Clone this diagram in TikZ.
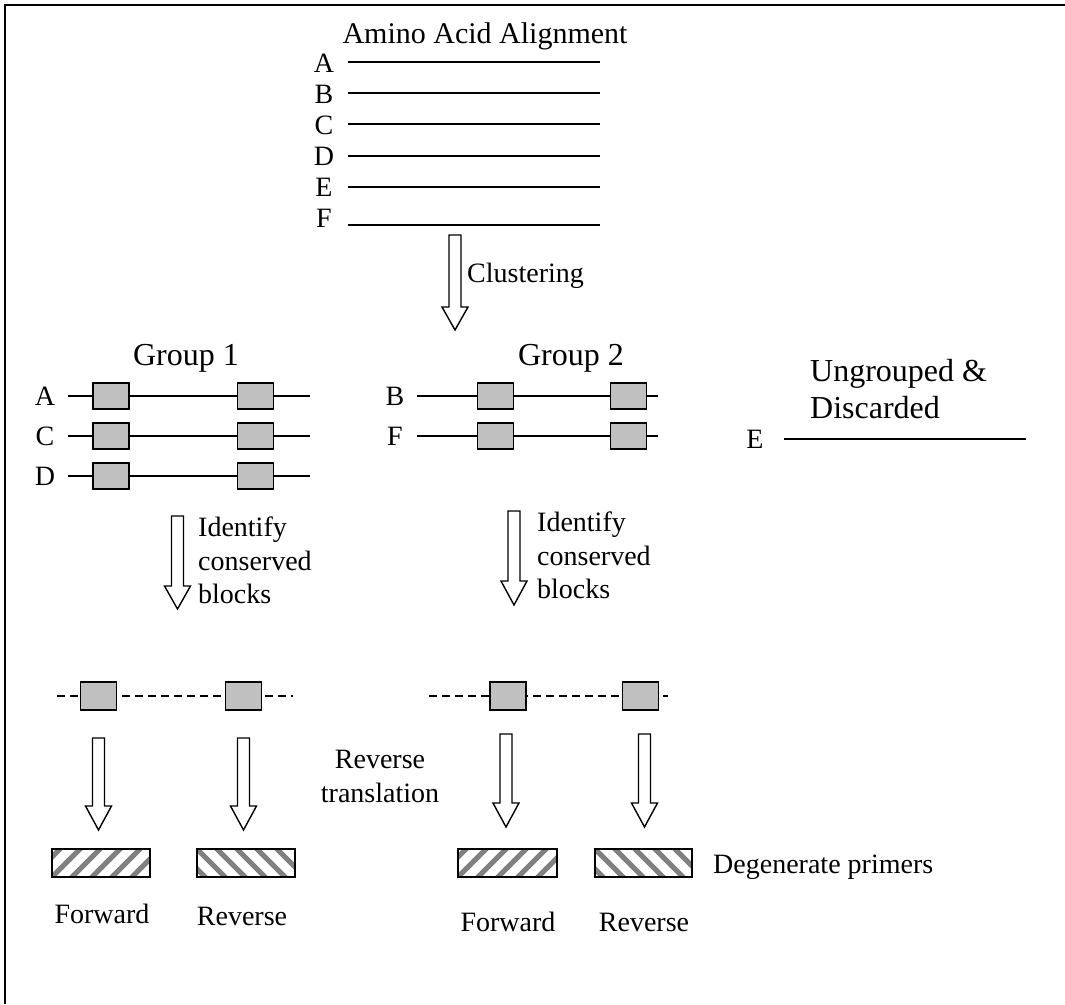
\documentclass[tikz,border=0pt]{standalone}
\usepackage{fontspec}
\setmainfont{Liberation Serif}
\definecolor{boxgray}{RGB}{192,192,192}
\definecolor{stripegray}{RGB}{128,128,128}
\newcommand{\blkarrow}[4]{\draw[blk] (#1-6,#2) -- (#1+6,#2) -- (#1+6,#3) -- (#1+13,#3) -- (#1,#4) -- (#1-13,#3) -- (#1-6,#3) -- cycle;}
\newcommand{\hatchfw}[2]{\begin{scope}\clip (#1,849) rectangle (#2,877);
  \foreach \s in {-40,-20,...,120} {\draw[stripe] (#1+\s-5,882) -- ++(38,-38);}
  \end{scope}}
\newcommand{\hatchbw}[2]{\begin{scope}\clip (#1,849) rectangle (#2,877);
  \foreach \s in {-40,-20,...,120} {\draw[stripe] (#1+\s-5,844) -- ++(38,38);}
  \end{scope}}
\begin{document}
\begin{tikzpicture}[x=1pt,y=-1pt,
  seq/.style={line width=1.8pt},
  dashseq/.style={line width=1.5pt, dash pattern=on 8pt off 5pt},
  gbox/.style={draw, line width=1.8pt, fill=boxgray, minimum width=36pt, minimum height=26pt, inner sep=0pt},
  hbox/.style={draw, line width=1.5pt, minimum height=28pt, inner sep=0pt},
  stripe/.style={stripegray, line width=5pt},
  blk/.style={draw, line width=1.4pt, fill=white, line join=miter},
  lbl/.style={font=\fontsize{28}{33.5}\selectfont, inner sep=0pt},
  ttl/.style={font=\fontsize{32}{37}\selectfont, inner sep=0pt},
]
\useasboundingbox (0,0) rectangle (1065,1004);
\draw[line width=2pt] (5,1004) -- (5,5) -- (1065,5);

% top alignment
\node[inner sep=0pt, font=\fontsize{30}{36}\selectfont, anchor=base] (title) at (485,43) {Amino Acid Alignment};
\foreach \n/\yy/\by in {A/62/72,B/93/103,C/124/134,D/156/165,E/187/196,F/225/227} {
  \node[lbl, anchor=base] (top\n) at (324,\by) {\n};
  \coordinate (top\n-s) at (348,\yy);
  \coordinate (top\n-e) at (600,\yy);
  \draw[seq] (top\n-s) -- (top\n-e);
}
\blkarrow{455}{235}{307}{330}
\node[lbl, anchor=base west] (clust) at (467,282) {Clustering};

% group 1
\node[ttl, anchor=base] (g1) at (186,365) {Group 1};
\foreach \n/\yy in {A/396,C/436,D/476} {
  \node[lbl, anchor=base] (ga\n) at (45,\yy+9) {\n};
  \coordinate (ga\n-s) at (68,\yy);
  \coordinate (ga\n-e) at (310,\yy);
  \draw[seq] (ga\n-s) -- (ga\n-e);
  \node[gbox] (ga\n-b1) at (111,\yy) {};
  \node[gbox] (ga\n-b2) at (255.5,\yy) {};
}
% group 2
\node[ttl, anchor=base] (g2) at (571,365) {Group 2};
\foreach \n/\yy in {B/396,F/436} {
  \node[lbl, anchor=base] (gb\n) at (395,\yy+9) {\n};
  \coordinate (gb\n-s) at (417,\yy);
  \coordinate (gb\n-e) at (658,\yy);
  \draw[seq] (gb\n-s) -- (gb\n-e);
  \node[gbox] (gb\n-b1) at (495.5,\yy) {};
  \node[gbox] (gb\n-b2) at (628.5,\yy) {};
}
% ungrouped
\node[ttl, align=left, anchor=north west] (ung) at (810,359) {Ungrouped \&\\Discarded};
\node[lbl, anchor=base] (ue) at (755,448) {E};
\coordinate (ue-s) at (784,439);
\coordinate (ue-e) at (1026,439);
\draw[seq] (ue-s) -- (ue-e);

% identify conserved blocks
\blkarrow{177.5}{516}{586}{609}
\node[lbl, align=left, anchor=north west] (id1) at (198,517) {Identify\\conserved\\blocks};
\blkarrow{514}{511}{581}{605}
\node[lbl, align=left, anchor=north west] (id2) at (537,512) {Identify\\conserved\\blocks};

% conserved blocks (dashed)
\coordinate (c1-s) at (57,696);
\coordinate (c1-e) at (293,696);
\draw[dashseq] (c1-s) -- (c1-e);
\node[gbox, minimum height=28pt] (c1-b1) at (98.5,696) {};
\node[gbox, minimum height=28pt] (c1-b2) at (243.5,696) {};
\coordinate (c2-s) at (429,696);
\coordinate (c2-e) at (668,696);
\draw[dashseq] (c2-s) -- (c2-e);
\node[gbox, minimum height=28pt] (c2-b1) at (508,696) {};
\node[gbox, minimum height=28pt] (c2-b2) at (640.5,696) {};

% reverse translation arrows
\blkarrow{98.5}{738}{806}{830}
\blkarrow{243.5}{738}{806}{830}
\blkarrow{506}{734}{803}{827}
\blkarrow{644.5}{734}{803}{827}
\node[lbl, align=center, anchor=north] (rt) at (380,750) {Reverse\\translation};

% primers
\hatchfw{52}{150}
\node[hbox, minimum width=98pt] (p1f) at (101,863) {};
\hatchbw{197}{295}
\node[hbox, minimum width=98pt] (p1r) at (246,863) {};
\hatchfw{458}{557}
\node[hbox, minimum width=99pt] (p2f) at (507.5,863) {};
\hatchbw{595}{692}
\node[hbox, minimum width=97pt] (p2r) at (643.5,863) {};
\node[lbl, anchor=base west] (deg) at (713,873) {Degenerate primers};

\node[lbl, anchor=base] (fw1) at (102,923) {Forward};
\node[lbl, anchor=base] (rv1) at (242,925) {Reverse};
\node[lbl, anchor=base] (fw2) at (508,931) {Forward};
\node[lbl, anchor=base] (rv2) at (644,931) {Reverse};
\end{tikzpicture}
\end{document}
